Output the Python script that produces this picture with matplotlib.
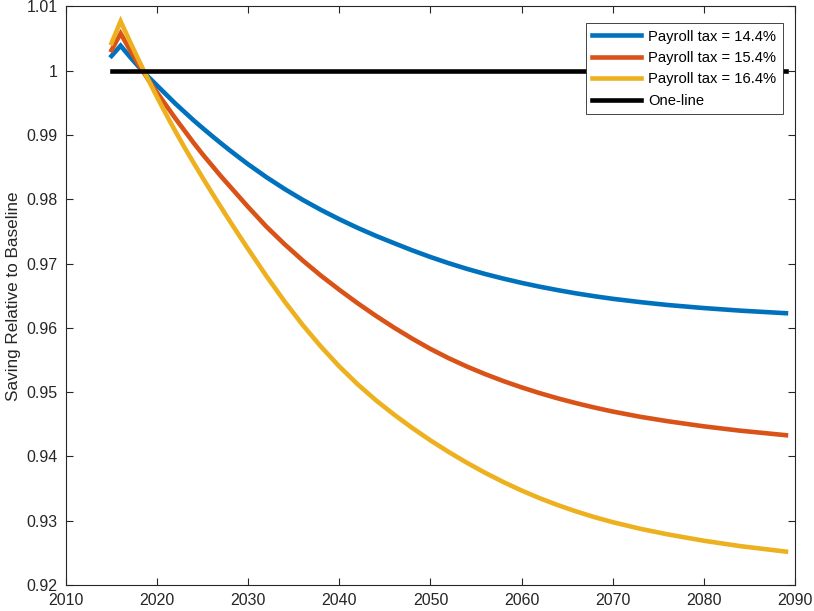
import matplotlib
matplotlib.use("Agg")
import matplotlib.pyplot as plt
from matplotlib.ticker import FuncFormatter

plt.rcParams['font.family'] = ['Liberation Sans', 'DejaVu Sans']

years = [2015, 2016, 2017, 2018, 2019, 2020, 2021, 2022, 2023, 2024, 2025,
         2026, 2027, 2028, 2029, 2030, 2032, 2034, 2036, 2038, 2040, 2042,
         2044, 2046, 2048, 2050, 2052, 2054, 2056, 2058, 2060, 2062, 2064,
         2066, 2068, 2070, 2073, 2076, 2080, 2084, 2089]

tax_144 = [1.0023, 1.0039, 1.0022, 1.0006, 0.9991, 0.9977, 0.9963, 0.9949,
           0.9936, 0.9923, 0.99108, 0.98989, 0.98873, 0.9876, 0.98651, 0.98544,
           0.98344, 0.98160, 0.97990, 0.97834, 0.97690, 0.97556, 0.97432, 0.97318,
           0.97206, 0.97102, 0.97006, 0.96918, 0.96838, 0.96766, 0.96700, 0.96640,
           0.96586, 0.96536, 0.96492, 0.96452, 0.96401, 0.96356, 0.96308, 0.96268,
           0.96228]

tax_154 = [1.0032, 1.0058, 1.0033, 1.0009, 0.9987, 0.9966, 0.9946, 0.9926,
           0.9907, 0.9888, 0.9870, 0.9853, 0.9836, 0.9820, 0.9804, 0.9788,
           0.97574, 0.97300, 0.97046, 0.96810, 0.96592, 0.96384, 0.96188, 0.96004,
           0.95832, 0.95672, 0.95528, 0.95398, 0.95280, 0.95172, 0.95074, 0.94984,
           0.94902, 0.94828, 0.94760, 0.94698, 0.94617, 0.94548, 0.94468, 0.94400,
           0.94330]

tax_164 = [1.0043, 1.0077, 1.0046, 1.0016, 0.9987, 0.9959, 0.9932, 0.9906,
           0.9881, 0.9857, 0.98335, 0.98105, 0.97879, 0.97657, 0.97439, 0.97225,
           0.96805, 0.96409, 0.96041, 0.95705, 0.95399, 0.95123, 0.94875, 0.94651,
           0.94443, 0.94249, 0.94069, 0.93901, 0.93745, 0.93601, 0.93469, 0.93349,
           0.93241, 0.93143, 0.93055, 0.92977, 0.92875, 0.92788, 0.92688, 0.92604,
           0.92519]

one_line_years = [2015, 2089]
one_line = [1.0, 1.0]

labels = ['Payroll tax = 14.4%', 'Payroll tax = 15.4%', 'Payroll tax = 16.4%', 'One-line']
colors = ['#0072BD', '#D95319', '#EDB120', '#000000']

fig = plt.figure(figsize=(8.14, 6.11), dpi=100)
ax = fig.add_axes([0.081, 0.0426, 0.8957, 0.9468])

for vals, lab, col in zip([tax_144, tax_154, tax_164], labels[:3], colors[:3]):
    ax.plot(years, vals, color=col, lw=3.3, label=lab, solid_joinstyle='miter')
ax.plot(one_line_years, one_line, color=colors[3], lw=3.3, label=labels[3])

ax.set_xlim(2010, 2090)
ax.set_ylim(0.92, 1.01)
ax.set_xticks(range(2010, 2091, 10))
ax.set_yticks([0.92 + 0.01 * i for i in range(10)])
ax.yaxis.set_major_formatter(FuncFormatter(lambda v, p: ('%.2f' % v).rstrip('0').rstrip('.')))

axc = '#262626'
for s in ax.spines.values():
    s.set_color(axc)
    s.set_linewidth(0.8)
ax.tick_params(direction='in', length=5, width=0.8, colors=axc, labelsize=11.5,
               top=True, right=True, labelcolor='#262626')
ax.tick_params(axis='x', pad=6)
ax.tick_params(axis='y', pad=6)
ax.set_ylabel('Saving Relative to Baseline', fontsize=12.3, color='#262626', labelpad=4)

leg = ax.legend(loc='upper right', bbox_to_anchor=(0.9835, 0.9715), fontsize=10.6,
                frameon=True, fancybox=False, framealpha=1, edgecolor=axc,
                handlelength=3.3, handletextpad=0.5, borderpad=0.45,
                labelspacing=0.5, borderaxespad=0)
leg.get_frame().set_linewidth(0.6)

fig.savefig('out.png', dpi=100)
